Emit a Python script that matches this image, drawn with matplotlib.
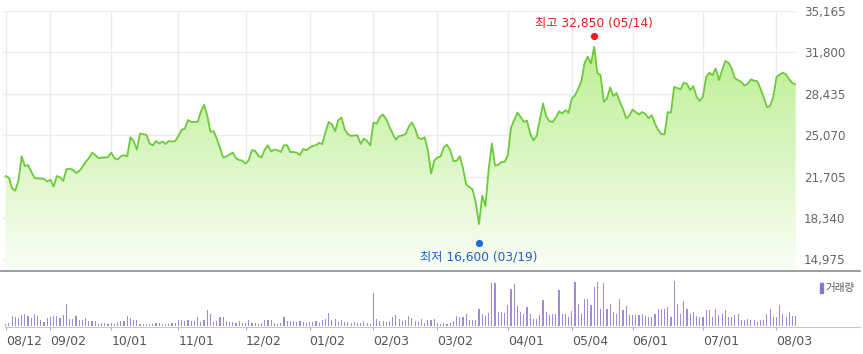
import numpy as np
import pandas as pd
import matplotlib
matplotlib.use("Agg")
import matplotlib.pyplot as plt
from matplotlib.colors import LinearSegmentedColormap
from matplotlib.lines import Line2D
from matplotlib.transforms import offset_copy

# ---------------- data ----------------
holidays = ['2019-08-15', '2019-09-12', '2019-09-13', '2019-10-03', '2019-10-09',
            '2019-12-25', '2019-12-31', '2020-01-01', '2020-01-24', '2020-01-27',
            '2020-04-15', '2020-04-30', '2020-05-01', '2020-05-05']
dates = pd.bdate_range('2019-08-12', '2020-08-11')
dates = dates[~dates.isin(pd.to_datetime(holidays))]

price = [
    21750, 21600, 20750, 20550, 21400, 23350, 22550, 22650, 22100, 21600,
    21550, 21550, 21500, 21300, 21450, 20900, 21750, 21650, 21350, 22300,
    22350, 22250, 22000, 22150, 22500, 22900, 23200, 23650, 23450, 23200,
    23250, 23250, 23300, 23650, 23200, 23100, 23350, 23450, 23350, 24900,
    24600, 23900, 25200, 25150, 25100, 24400, 24250, 24600, 24400, 24550,
    24350, 24600, 24550, 24600, 25000, 25500, 25600, 26300, 26150, 26150,
    26150, 26950, 27550, 26700, 25350, 25400, 24800, 24050, 23250, 23350,
    23500, 23650, 23200, 23050, 23000, 22750, 23050, 23850, 23800, 23400,
    23250, 23900, 24250, 23750, 23900, 23850, 23700, 24250, 24250, 23700,
    23700, 23650, 23450, 23950, 23850, 24050, 24200, 24250, 24450, 24350,
    25350, 26150, 25950, 25400, 26300, 26500, 25550, 25150, 25000, 25050,
    25050, 24350, 24800, 24600, 24250, 26100, 26000, 26550, 26750, 26350,
    25750, 25200, 24700, 25000, 25050, 25150, 25750, 26100, 25600, 24850,
    24750, 24900, 23850, 21950, 23000, 23250, 23350, 24100, 24300, 23850,
    22950, 23000, 23350, 22350, 21050, 20850, 20650, 19550, 17850, 20150,
    19300, 22250, 24400, 22600, 22650, 22900, 22900, 23450, 25700, 26300,
    26900, 26550, 26150, 26250, 25200, 24650, 25000, 26300, 27650, 26600,
    26200, 26150, 26500, 27000, 26850, 27100, 26900, 28050, 28300, 28850,
    29450, 30950, 31450, 30900, 32250, 30100, 29950, 27800, 28050, 28950,
    28250, 28500, 27800, 27200, 26450, 26650, 27150, 26950, 26750, 26950,
    26800, 26450, 26700, 26000, 25500, 25150, 25150, 26950, 26900, 29000,
    28900, 28800, 29350, 29250, 28750, 29050, 28200, 27850, 28200, 29800,
    30150, 29950, 30500, 29550, 30350, 31100, 30950, 30500, 29700, 29550,
    29400, 29100, 29250, 29600, 29500, 29450, 28850, 28150, 27350, 27450,
    28200, 29800, 30000, 30150, 30000, 29600, 29300, 29200,
]

volume = [
    7, 9, 29, 27, 25, 32, 37, 29, 24, 37, 30, 19, 12, 25,
    26, 29, 29, 25, 34,
    65,
    22, 22, 29, 19, 17, 25, 14, 15, 15, 7, 10,
    9, 7,
    9, 7, 12, 15, 15, 30, 24, 19, 19, 7, 7, 7, 7, 7, 10, 10, 7, 7, 7, 9, 9, 19,
    17, 15, 17, 15, 14, 27, 12, 17,
    49,
    37, 12, 15, 27, 27, 15, 12, 12, 10, 15, 9, 10, 17, 10, 9,
    7, 10, 19, 19, 17, 9,
    7, 9, 27, 15, 15, 15, 12, 15,
    12, 10, 12, 12, 14, 10, 17, 22,
    39,
    17, 20, 12, 17, 12, 12, 10, 12, 10, 10, 15, 10,
    7,
    99,
    22, 15, 15, 12, 15, 27, 34, 22, 15, 19, 30, 25, 15, 12, 22, 10, 19,
    17, 22, 9, 7, 9, 7, 9, 15, 30, 27, 27, 37, 19, 19, 19, 52, 37, 30, 39, 129,
    129, 41, 41, 39, 62, 112, 127, 60, 42, 37, 57, 35, 22, 22, 32, 79, 42, 32,
    35, 35, 109, 35, 35, 27, 45, 132, 67, 37, 82, 80, 62, 117, 132, 52, 129, 52,
    67, 42, 37, 82, 49, 60, 32, 32, 32, 32, 37, 29, 27, 27, 37, 52, 52, 52, 57,
    27, 135, 65, 37, 75, 52, 37, 42, 30, 27, 27, 49, 49, 27, 52, 32, 37, 49, 27,
    27, 32, 35, 17, 17, 22, 19, 19, 12, 19, 19, 37, 52, 27, 27, 64, 37, 27, 42,
    30, 30,
]

tick_dates = ['2019-08-12', '2019-09-02', '2019-10-01', '2019-11-01', '2019-12-02',
              '2020-01-02', '2020-02-03', '2020-03-02', '2020-04-01', '2020-05-04',
              '2020-06-01', '2020-07-01', '2020-08-03']
y_ticks = [14975, 18340, 21705, 25070, 28435, 31800, 35165]

high_date, high_value = '2020-05-14', 32850
low_date, low_value = '2020-03-19', 16600

assert len(price) == len(dates), (len(price), len(dates))
assert len(volume) == len(dates), (len(volume), len(dates))

# ---------------- figure ----------------
W, H = 863, 354
fig = plt.figure(figsize=(W / 100, H / 100), dpi=100)
fig.patch.set_facecolor('white')

x = np.arange(len(dates))
xmin, xmax = -0.84, len(dates) - 1 + 0.1
ymin, ymax = 14029, 35165 + 40

def fx(px):
    return px / W

def fy(py):
    return 1 - py / H

ax = fig.add_axes([fx(3), fy(271), fx(796) - fx(3), fy(10.5) - fy(271)])
axv = fig.add_axes([fx(3), fy(326), fx(796) - fx(3), fy(271) - fy(326)])

pos = {d: i for i, d in enumerate(dates)}
tick_pos = [pos[pd.Timestamp(d)] for d in tick_dates]
tick_lbl = [pd.Timestamp(d).strftime('%m/%d') for d in tick_dates]

# price panel
grid_c = '#ebebeb'
for yv in y_ticks:
    ax.axhline(yv, color=grid_c, lw=1.0, zorder=0)
for tp in tick_pos:
    ax.axvline(tp, color=grid_c, lw=1.0, zorder=0)

poly = ax.fill_between(x, price, ymin, color='none', lw=0)
cmap = LinearSegmentedColormap.from_list('g', [(250/255, 254/255, 246/255),
                                               (214/255, 245/255, 188/255),
                                               (180/255, 236/255, 130/255)])
grad = np.linspace(0, 1, 256).reshape(-1, 1)
im = ax.imshow(grad, extent=[xmin, xmax, ymin, 35165], origin='lower',
               aspect='auto', cmap=cmap, zorder=1, interpolation='bilinear')
im.set_clip_path(poly.get_paths()[0], transform=ax.transData)
ax.plot(x, price, color='#6ccb3a', lw=1.3, zorder=3, solid_joinstyle='round')

# high / low markers
hi_i = pos[pd.Timestamp(high_date)]
lo_i = pos[pd.Timestamp(low_date)]
ax.plot([hi_i], [high_value], 'o', ms=5.2, color='#f01820', mec='none', zorder=5,
        transform=offset_copy(ax.transData, fig=fig, x=0, y=3.5, units='dots'), clip_on=False)
ax.plot([lo_i], [low_value], 'o', ms=5.2, color='#1f6ae0', mec='none', zorder=5,
        transform=offset_copy(ax.transData, fig=fig, x=0, y=-3.5, units='dots'), clip_on=False)
kfont = ['DejaVu Sans', 'Noto Sans CJK KR']
ax.annotate(f'최고 {high_value:,} ({pd.Timestamp(high_date).strftime("%m/%d")})',
            xy=(hi_i, high_value), xytext=(0, 16.5), textcoords='offset pixels',
            ha='center', va='center', fontsize=8.8, color='#f01820', family=kfont,
            annotation_clip=False, zorder=6)
ax.annotate(f'최저 {low_value:,} ({pd.Timestamp(low_date).strftime("%m/%d")})',
            xy=(lo_i, low_value), xytext=(0, -17.5), textcoords='offset pixels',
            ha='center', va='center', fontsize=8.8, color='#1f5fc8', family=kfont,
            annotation_clip=False, zorder=6)

ax.set_xlim(xmin, xmax)
ax.set_ylim(ymin, ymax)
ax.set_xticks([])
ax.yaxis.tick_right()
ax.set_yticks(y_ticks)
ax.set_yticklabels([f'{v:,}' for v in y_ticks])
ax.tick_params(axis='y', length=0, pad=5.5, labelsize=8.6, labelcolor='#666666')
for s in ax.spines.values():
    s.set_visible(False)
ax.set_facecolor('none')

# volume panel
axv.bar(x, volume, width=0.36, color='#a08ad6', lw=0)
axv.set_xlim(xmin, xmax)
axv.set_ylim(0, 165)
axv.set_yticks([])
axv.set_xticks(tick_pos)
axv.set_xticklabels(tick_lbl, ha='left')
axv.tick_params(axis='x', length=3.2, width=0.8, color='#aaaaaa', pad=3.0,
                labelsize=9, labelcolor='#555555')
for s in axv.spines.values():
    s.set_visible(False)
axv.set_facecolor('none')

# separator and baseline lines
fig.add_artist(Line2D([fx(0), fx(860)], [fy(271), fy(271)], color='#8c8c8c', lw=1.2))
fig.add_artist(Line2D([fx(5), fx(860)], [fy(326.5), fy(326.5)], color='#c8c8c8', lw=0.8))

# legend
fig.add_artist(plt.Rectangle((fx(820), fy(293)), fx(3), fy(283) - fy(293),
                             color='#8f74cc', transform=fig.transFigure))
fig.text(fx(826), fy(288), '거래량', ha='left', va='center', fontsize=7.6,
         color='#555555', family=['Noto Sans CJK KR', 'DejaVu Sans'])

fig.savefig('out.png', dpi=100, facecolor='white')
